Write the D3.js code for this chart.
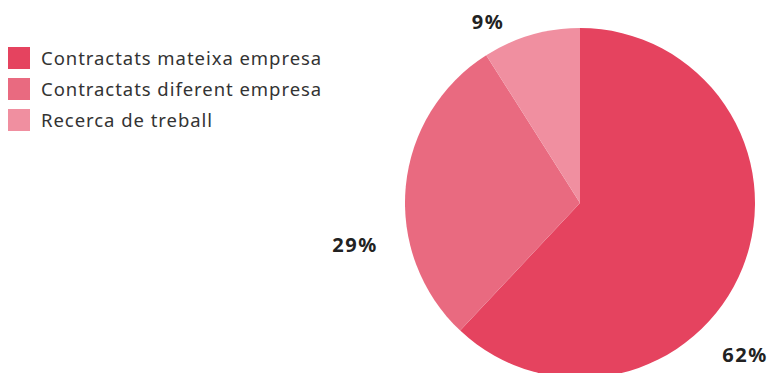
<!DOCTYPE html>
<html>
<head>
<meta charset="utf-8">
<style>
  body { margin: 0; background: #fff; }
  svg { display: block; }
</style>
</head>
<body>
<div id="chart"></div>
<script src="https://d3js.org/d3.v7.min.js"></script>
<script>
// data
var categories = ["Contractats mateixa empresa", "Contractats diferent empresa", "Recerca de treball"];
var values = [62, 29, 9];
var colors = ["#e5435f", "#e96a80", "#f08fa0"];
// where each percentage label sits, relative to the pie centre
var labelOffsets = [[165, 152], [-225, 42], [-92, -181]];

var width = 769, height = 373;
var cx = 580, cy = 203, radius = 175;

var svg = d3.select("#chart").append("svg")
    .attr("width", width)
    .attr("height", height);

// legend
var legend = svg.append("g").attr("transform", "translate(8,47)");
var rows = legend.selectAll("g")
    .data(categories)
  .enter().append("g")
    .attr("transform", function(d, i) { return "translate(0," + (i * 31) + ")"; });
rows.append("rect")
    .attr("width", 22)
    .attr("height", 22)
    .attr("fill", function(d, i) { return colors[i]; });
rows.append("text")
    .attr("x", 33)
    .attr("y", 18)
    .style("font-family", "'Noto Sans', sans-serif")
    .style("font-size", "18.5px")
    .style("letter-spacing", "0.95px")
    .style("fill", "#333")
    .text(function(d) { return d; });

// pie
var pie = d3.pie().sort(null).value(function(d) { return d; });
var arc = d3.arc().innerRadius(0).outerRadius(radius);

var g = svg.append("g").attr("transform", "translate(" + cx + "," + cy + ")");
g.selectAll("path")
    .data(pie(values))
  .enter().append("path")
    .attr("d", arc)
    .attr("fill", function(d, i) { return colors[i]; });

g.selectAll("text")
    .data(values)
  .enter().append("text")
    .attr("x", function(d, i) { return labelOffsets[i][0]; })
    .attr("y", function(d, i) { return labelOffsets[i][1]; })
    .attr("dy", "0.35em")
    .attr("text-anchor", "middle")
    .style("font-family", "'Noto Sans', sans-serif")
    .style("font-weight", "bold")
    .style("font-size", "20px")
    .style("letter-spacing", "1.5px")
    .style("fill", "#222")
    .text(function(d) { return d + "%"; });
</script>
</body>
</html>
